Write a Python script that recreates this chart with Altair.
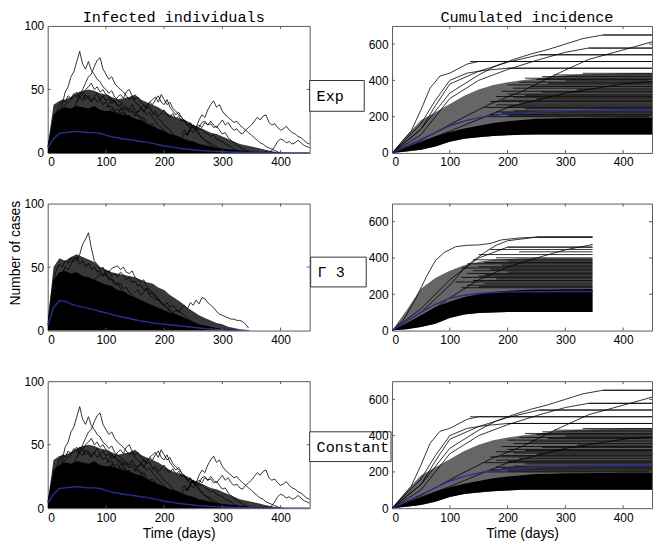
import altair as alt
import pandas as pd

# ------------------------------------------------------------------ data
X_TICKS = [0, 100, 200, 300, 400]
X_INNER = [100, 200, 300, 400]
INF_TICKS = [0, 50, 100]
INF_INNER = [50]
CUM_TICKS = [0, 200, 400, 600]
CUM_INNER = [200, 400, 600]

# Infected individuals, Exp (the Constant run shows the same picture)
INF_DAYS = list(range(0, 451, 10))
EXP_INF_MEAN = [4, 11, 15.5, 16, 16.5, 17, 16.5, 16, 16, 15.5, 14, 12.7, 12, 11, 10.5, 9.8, 9, 8.5,
                7.5, 6.5, 5.5, 5, 4.2, 3.5, 3, 2.5, 2, 1.7, 1.4, 1.2, 1, 0.8, 0.6, 0.5, 0.4, 0.3, 0.25,
                0.2, 0.15, 0.1, 0.1, 0.08, 0.06, 0.05, 0.05, 0.05]
EXP_INF_CORE = [5, 30, 34, 36, 35, 37, 36, 35, 37, 34, 33, 33, 31, 30, 29, 27, 26, 23, 21, 19,
                17, 15, 14, 12, 10, 9, 7, 6, 5, 4, 3.5, 3, 2.5, 2, 1.5, 1, 1, 0.5, 0.5, 0,
                0, 0, 0, 0, 0, 0]
EXP_INF_MESH = [5, 38, 41, 42, 44, 47, 49, 50, 49, 47, 46, 44, 42, 43, 44, 46, 42, 40, 38, 36,
                33, 30, 28, 27, 25, 22, 20, 18, 16, 15, 13, 11, 9, 7, 6, 5, 4, 3, 2, 1,
                0.5, 0, 0, 0, 0, 0]
# single trajectories: (first day, values every 5 days)
EXP_INF_LINES = {
    "a": (0, [5, 10, 16, 22, 30, 38, 48, 52, 60, 64, 72, 80, 70, 66, 72, 65, 62, 58, 56, 52, 50, 47, 49, 44,
              42, 40, 38, 36, 34, 35, 32, 30, 28, 25, 22, 20, 18, 15, 12, 10, 8, 6, 5, 3, 2, 1, 0]),
    "b": (0, [5, 8, 12, 15, 20, 22, 25, 28, 32, 35, 40, 45, 50, 55, 60, 62, 68, 73, 75, 66, 62, 58, 60, 55,
              52, 50, 48, 45, 42, 44, 40, 38, 36, 33, 30, 32, 28, 25, 22, 20, 18, 15, 12, 10, 8, 6, 5, 3,
              2, 1, 0]),
    "c": (100, [30, 32, 35, 33, 30, 34, 36, 33, 35, 38, 34, 32, 35, 38, 36, 40, 38, 42, 45, 40, 38, 42, 36,
                33, 30, 32, 28, 25, 22, 24, 20, 18, 15, 12, 10, 8, 6, 4, 3, 2, 1, 0]),
    "d": (220, [8, 10, 12, 15, 14, 18, 22, 20, 26, 30, 28, 34, 38, 41, 36, 38, 33, 30, 28, 26, 24, 25, 22,
                20, 18, 16, 14, 12, 10, 8, 7, 5, 4, 3, 2, 1, 0]),
    "e": (240, [15, 18, 16, 20, 22, 20, 24, 22, 25, 22, 20, 23, 26, 22, 24, 20, 18, 19, 16, 15,
                18, 20, 22, 25, 28, 26, 29, 30, 24, 22, 23, 20, 18, 19, 21, 18, 16, 15, 13, 12,
                10, 8, 7]),
    "f": (370, [0, 1, 0, 2, 5, 9, 11, 10, 8, 9, 7, 8, 10, 8, 6, 5, 4]),
    "g": (230, [15, 18, 14, 20, 22, 18, 20, 24, 25, 22, 23, 20, 21, 18, 15, 16, 12, 10, 8, 6, 5, 3, 2, 1, 0]),
    "h": (150, [30, 33, 35, 32, 37, 40, 42, 44, 40, 46, 42, 38, 40, 35, 33, 30, 28, 25, 22, 20, 22, 18, 15,
                12, 10, 9, 8, 6, 5, 3, 2, 1, 0]),
    "i": (100, [35, 38, 42, 40, 44, 46, 43, 48, 50, 45, 42, 44, 40, 38, 35, 36, 32, 30, 27, 25, 22, 20, 18,
                15, 12, 10, 8, 6, 4, 2, 0]),
    "j": (0, [5, 12, 20, 25, 30, 35, 38, 40, 42, 45, 48, 44, 46, 50, 52, 55, 50, 52, 48, 50, 46, 45, 42, 40,
              38, 35, 33, 30, 28, 25, 22, 20, 18, 15, 12, 10, 8, 5, 3, 1, 0]),
    "k": (0, [5, 15, 25, 32, 38, 42, 40, 45, 43, 47, 44, 48, 46, 42, 45, 41, 44, 40, 42, 38, 40, 36, 37, 33,
              35, 31, 32, 28, 30, 26, 27, 24, 25, 22, 20, 21, 18, 16, 17, 14, 12, 13, 10, 8, 9, 6, 5, 4,
              2, 1, 0]),
    "l": (50, [40, 44, 41, 46, 43, 40, 44, 47, 42, 45, 41, 43, 39, 41, 37, 38, 34, 36, 32, 33, 29, 30, 27,
               28, 24, 22, 23, 20, 18, 16, 14, 12, 10, 8, 6, 4, 2, 0]),
    "m": (180, [30, 33, 29, 31, 34, 30, 28, 31, 27, 29, 25, 26, 22, 23, 20, 21, 18, 19, 16, 15, 13, 14, 11,
                10, 9, 7, 6, 5, 3, 2, 1, 0]),
}

# Infected individuals, Gamma 3
GAM_DAYS = list(range(0, 341, 10)) + [347]
GAM_INF_MEAN = [4, 18, 23.5, 23, 21, 19.5, 18.5, 17.5, 16.5, 15, 14, 12.8, 11.5, 10.5, 9.5, 8.5, 7.5, 7,
                6, 5.5, 5, 4.5, 4, 3.5, 3, 2.5, 2, 1.5, 1.2, 0.8, 0.6, 0.4, 0.3, 0.2, 0.1, 0]
GAM_INF_CORE = [5, 40, 46, 47, 45, 46, 43, 42, 40, 38, 36, 35, 32, 31, 28, 26, 24, 22, 20, 18,
                16, 14, 13, 11, 9, 7, 5, 4, 3, 2, 1.5, 1, 0.5, 0.3, 0, 0]
GAM_INF_MESH = [5, 50, 57, 55, 58, 60, 58, 56, 54, 50, 48, 46, 45, 44, 43, 42, 40, 38, 37, 34,
                32, 28, 25, 22, 18, 15, 12, 10, 8, 6, 5, 3, 2, 1, 0.5, 0]
GAM_INF_LINES = {
    "a": (0, [5, 15, 25, 32, 40, 45, 50, 48, 52, 58, 55, 60, 68, 72, 77, 65, 55, 52, 48, 50, 45, 42, 40, 36,
              38, 33, 30, 28, 25, 22, 20, 18, 15, 12, 10, 8, 6, 4, 2, 1, 0]),
    "b": (60, [30, 35, 38, 36, 40, 42, 45, 43, 47, 46, 49, 50, 51, 48, 50, 46, 45, 47, 42, 40, 38, 40, 35,
               32, 30, 28, 25, 22, 20, 18, 15, 12, 10, 8, 5, 3, 1, 0]),
    "c": (200, [10, 12, 9, 14, 16, 15, 18, 20, 17, 22, 20, 24, 21, 26, 25, 22, 20, 18, 15, 13, 12, 11, 10,
                9, 9, 8, 8, 7, 5, 2]),
    "d": (150, [30, 32, 28, 30, 33, 28, 26, 24, 25, 22, 20, 22, 18, 20, 17, 15, 14, 12, 10, 8, 6, 4, 2, 0]),
    "e": (0, [5, 25, 40, 48, 52, 50, 55, 53, 57, 54, 58, 52, 55, 50, 53, 48, 50, 46, 47, 43, 44, 40, 41, 38,
              36, 37, 33, 34, 30, 28, 26, 24, 22, 20, 18, 16, 14, 12, 10, 8, 6, 4, 2, 0]),
    "f": (100, [44, 47, 43, 45, 42, 46, 44, 40, 42, 38, 39, 35, 36, 32, 33, 29, 30, 26, 24, 22, 20, 18, 16,
                14, 12, 10, 8, 6, 4, 2, 0]),
}

# Cumulated incidence, Exp (Constant identical)
CUM_DAYS = list(range(0, 451, 25))
EXP_CUM_LOWER = [0, 8, 18, 35, 62, 78, 86, 93, 98, 101, 102, 102, 102, 102, 102, 102, 102, 102, 102]
EXP_CUM_CORE = [0, 30, 60, 90, 115, 135, 150, 165, 175, 182, 188, 190, 192, 193, 194, 194, 195, 195, 195]
EXP_CUM_MESH = [0, 95, 180, 225, 270, 315, 350, 375, 390, 400, 410, 420, 428, 432, 435, 437, 439, 440, 440]
EXP_CUM_MEAN_DAYS = [0, 25, 50, 75, 100, 125, 150, 175, 200, 250, 300, 350, 400, 450]
EXP_CUM_MEAN = [0, 38, 75, 112, 150, 175, 195, 207, 215, 225, 232, 236, 237, 238]
EXP_CUM_PLATEAU = [650, 578, 541, 504, 467, 439, 430, 421, 412, 405, 397, 390, 384, 375, 366, 357, 348,
                   340, 335, 324, 318, 311, 304, 298, 290, 283, 275, 265, 258, 251, 244, 232, 226, 220,
                   212, 205, 200]
EXP_CUM_PLATEAU_FROM = [365, 340, 255, 135, 200, 330, 280, 260, 230, 250, 300, 220, 270, 200, 240, 210,
                        320, 190, 260, 200, 230, 180, 210, 250, 190, 170, 220, 180, 200, 160, 230, 210,
                        180, 190, 170, 200, 160]
EXP_CUM_CURVES = {
    "steep": ([0, 33, 50, 66, 83, 100, 130, 150, 450], [0, 120, 237, 358, 424, 440, 490, 504, 504]),
    "c650": ([0, 50, 100, 150, 180, 210, 240, 270, 300, 330, 365, 450],
             [0, 130, 330, 430, 480, 515, 545, 570, 600, 630, 650, 650]),
    "c612": ([0, 50, 111, 168, 225, 283, 340, 397, 450], [0, 70, 175, 267, 340, 432, 515, 565, 612]),
    "c578": ([0, 50, 100, 150, 200, 250, 300, 340, 450], [0, 100, 300, 400, 460, 510, 555, 578, 578]),
    "c541": ([0, 50, 75, 100, 150, 200, 255, 450], [0, 130, 260, 380, 450, 500, 541, 541]),
    "c467": ([0, 50, 75, 100, 130, 160, 200, 450], [0, 160, 290, 400, 440, 455, 467, 467]),
    "slow": ([0, 100, 200, 300, 400, 450], [0, 120, 250, 330, 380, 395]),
}

# Cumulated incidence, Gamma 3
GAM_CUM_DAYS = list(range(0, 326, 25)) + [347]
GAM_CUM_LOWER = [0, 8, 20, 38, 70, 88, 97, 100, 102, 102, 102, 102, 102, 102, 102]
GAM_CUM_CORE = [0, 40, 85, 130, 160, 185, 200, 212, 220, 224, 226, 227, 228, 228, 229]
GAM_CUM_MESH = [0, 110, 230, 290, 330, 360, 380, 390, 395, 398, 400, 400, 400, 400, 400]
GAM_CUM_MEAN_DAYS = [0, 25, 50, 75, 100, 125, 150, 175, 200, 250, 300, 347]
GAM_CUM_MEAN = [0, 50, 100, 145, 178, 195, 205, 210, 213, 214, 215, 215]
GAM_CUM_PLATEAU = [515, 474, 460, 447, 434, 419, 401, 390, 383, 375, 368, 360, 352, 345, 338, 330, 322,
                   315, 308, 300, 293, 285, 276, 268, 258, 250, 242, 236]
GAM_CUM_PLATEAU_FROM = [250, 345, 200, 170, 220, 150, 180, 140, 200, 160, 130, 190, 150, 120, 170, 140,
                        200, 130, 160, 150, 120, 180, 140, 110, 160, 130, 150, 120]
GAM_CUM_CURVES = {
    "steep": ([0, 20, 40, 60, 75, 90, 110, 130, 150, 170, 190, 220, 250, 347],
              [0, 60, 170, 300, 385, 430, 462, 470, 472, 480, 500, 510, 515, 515]),
    "c515": ([0, 50, 100, 130, 160, 180, 200, 250, 347], [0, 100, 250, 360, 430, 470, 495, 515, 515]),
    "c474": ([0, 50, 100, 150, 200, 250, 300, 347], [0, 70, 180, 280, 350, 400, 445, 474]),
    "c460": ([0, 50, 100, 150, 200, 347], [0, 120, 280, 400, 460, 460]),
}

# ------------------------------------------------------------------ style
W_L, W_R, H = 264, 262, 128
FRAME = "#5a5a5a"
BLUE = "#25308f"
MONO = "Liberation Mono"
SANS = "Liberation Sans"


def band_df(days, lo, hi):
    return pd.DataFrame({"day": days, "lo": lo, "hi": hi})


def step_lines_df(lines):
    rows = []
    for name, (start, vals) in lines.items():
        for i, v in enumerate(vals):
            rows.append({"day": start + 5 * i, "v": v, "id": name})
    return pd.DataFrame(rows)


def knot_lines_df(curves):
    rows = []
    for name, (days, vals) in curves.items():
        for d, v in zip(days, vals):
            rows.append({"day": d, "v": v, "id": name})
    return pd.DataFrame(rows)


def panel(W, ymax, yticks, yinner, layers_spec, xtitle=None, extras=(), mesh_opacity=0.75):
    xs = alt.Scale(domain=[0, 450], nice=False, zero=False)
    ys = alt.Scale(domain=[0, ymax], nice=False, zero=False)
    if xtitle:
        xax = alt.Axis(values=X_TICKS, title=xtitle, titlePadding=4)
    else:
        xax = alt.Axis(values=X_TICKS, title=None)
    yax = alt.Axis(values=yticks, title=None)

    def X(f):
        return alt.X(f, scale=xs, axis=xax)

    def Y(f):
        return alt.Y(f, scale=ys, axis=yax)

    layers = []
    for kind, df in layers_spec:
        base = alt.Chart(df)
        if kind == "mesh":
            layers.append(base.mark_area(color="black", opacity=mesh_opacity, clip=True)
                          .encode(x=X("day:Q"), y=Y("hi:Q"), y2="lo:Q"))
        elif kind == "core":
            layers.append(base.mark_area(color="black", opacity=1, clip=True)
                          .encode(x=X("day:Q"), y=Y("hi:Q"), y2="lo:Q"))
        elif kind == "plateau":
            layers.append(base.mark_rule(color="black", strokeWidth=0.8, clip=True)
                          .encode(x=X("start:Q"), x2="end:Q", y=Y("v:Q")))
        elif kind == "lines":
            layers.append(base.mark_line(color="black", strokeWidth=0.8, clip=True)
                          .encode(x=X("day:Q"), y=Y("v:Q"), detail="id:N"))
        elif kind == "mean":
            layers.append(base.mark_line(color=BLUE, strokeWidth=1.4, clip=True)
                          .encode(x=X("day:Q"), y=Y("v:Q")))
    xt = alt.Chart(pd.DataFrame({"t": X_INNER}))
    yt = alt.Chart(pd.DataFrame({"t": yinner}))
    layers += [
        xt.mark_rule(color=FRAME, strokeWidth=1).encode(x=X("t:Q"), y=alt.value(H), y2=alt.value(H - 3)),
        xt.mark_rule(color=FRAME, strokeWidth=1).encode(x=X("t:Q"), y=alt.value(0), y2=alt.value(3)),
        yt.mark_rule(color=FRAME, strokeWidth=1).encode(y=Y("t:Q"), x=alt.value(0), x2=alt.value(3)),
        yt.mark_rule(color=FRAME, strokeWidth=1).encode(y=Y("t:Q"), x=alt.value(W), x2=alt.value(W - 3)),
    ]
    layers += list(extras)
    return alt.layer(*layers).properties(width=W, height=H)


def label_box(W, text, bx, bw, by, bh):
    d = alt.Chart(pd.DataFrame({"label": [text]}))
    box = d.mark_rect(fill="white", stroke="#333333", strokeWidth=1).encode(
        x=alt.value(W + bx), x2=alt.value(W + bx + bw), y=alt.value(by), y2=alt.value(by + bh))
    txt = d.mark_text(font=MONO, fontSize=15.2, align="left", baseline="middle", color="black").encode(
        x=alt.value(W + bx + 7), y=alt.value(by + bh / 2 + 0.5), text="label:N")
    return [box, txt]


def heading(text, x):
    d = alt.Chart(pd.DataFrame({"label": [text]}))
    return d.mark_text(font=MONO, fontSize=15.3, align="center", baseline="middle", color="black").encode(
        x=alt.value(x), y=alt.value(-8.5), text="label:N")


def infected(days, mean, core, mesh, lines, box, xtitle=None, extra_more=()):
    zeros = [0] * len(days)
    spec = [
        ("mesh", band_df(days, zeros, mesh)),
        ("core", band_df(days, zeros, core)),
        ("lines", step_lines_df(lines)),
        ("mean", pd.DataFrame({"day": days, "v": mean})),
    ]
    return panel(W_L, 100, INF_TICKS, INF_INNER, spec, xtitle, list(box) + list(extra_more), 0.78)


def cumulated(days, lower, core, mesh, pv, pfrom, end, curves, meand, meanv, xtitle=None,
              extra_more=()):
    spec = [
        ("mesh", band_df(days, lower, mesh)),
        ("core", band_df(days, lower, core)),
        ("plateau", pd.DataFrame({"v": pv, "start": pfrom, "end": [end] * len(pv)})),
        ("lines", knot_lines_df(curves)),
        ("mean", pd.DataFrame({"day": meand, "v": meanv})),
    ]
    return panel(W_R, 700, CUM_TICKS, CUM_INNER, spec, xtitle, list(extra_more), 0.6)


ylab = alt.Chart(pd.DataFrame({"label": ["Number of cases"]})).mark_text(
    font=SANS, fontSize=14, angle=270, align="center", baseline="middle", color="black").encode(
    x=alt.value(-32), y=alt.value(50), text="label:N")

p1 = infected(INF_DAYS, EXP_INF_MEAN, EXP_INF_CORE, EXP_INF_MESH, EXP_INF_LINES,
              label_box(W_L, "Exp", 0, 55, 55, 31), extra_more=[heading("Infected individuals", 127)])
p2 = cumulated(CUM_DAYS, EXP_CUM_LOWER, EXP_CUM_CORE, EXP_CUM_MESH,
               EXP_CUM_PLATEAU, EXP_CUM_PLATEAU_FROM, 450, EXP_CUM_CURVES,
               EXP_CUM_MEAN_DAYS, EXP_CUM_MEAN, extra_more=[heading("Cumulated incidence", 136)])
p3 = infected(GAM_DAYS, GAM_INF_MEAN, GAM_INF_CORE, GAM_INF_MESH, GAM_INF_LINES,
              label_box(W_L, "\u0393 3", 1, 56, 54, 30), extra_more=[ylab])
p4 = cumulated(GAM_CUM_DAYS, GAM_CUM_LOWER, GAM_CUM_CORE, GAM_CUM_MESH,
               GAM_CUM_PLATEAU, GAM_CUM_PLATEAU_FROM, 347, GAM_CUM_CURVES,
               GAM_CUM_MEAN_DAYS, GAM_CUM_MEAN)
p5 = infected(INF_DAYS, EXP_INF_MEAN, EXP_INF_CORE, EXP_INF_MESH, EXP_INF_LINES,
              label_box(W_L, "Constant", 0, 82, 51, 30), xtitle="Time (days)")
p6 = cumulated(CUM_DAYS, EXP_CUM_LOWER, EXP_CUM_CORE, EXP_CUM_MESH,
               EXP_CUM_PLATEAU, EXP_CUM_PLATEAU_FROM, 450, EXP_CUM_CURVES,
               EXP_CUM_MEAN_DAYS, EXP_CUM_MEAN, xtitle="Time (days)")

chart = alt.concat(p1, p2, p3, p4, p5, p6, columns=2, spacing={"row": 51, "column": 83},
                   bounds="flush").properties(padding=0).configure_view(
    stroke=FRAME, strokeWidth=1).configure_axis(
    labelFont=SANS, labelFontSize=12, labelColor="black", labelPadding=4,
    ticks=False, domain=False, grid=False,
    titleFont=SANS, titleFontSize=14, titleFontWeight="normal", titleColor="black")

chart.save("out.html", embed_options={"renderer": "svg", "actions": False})
